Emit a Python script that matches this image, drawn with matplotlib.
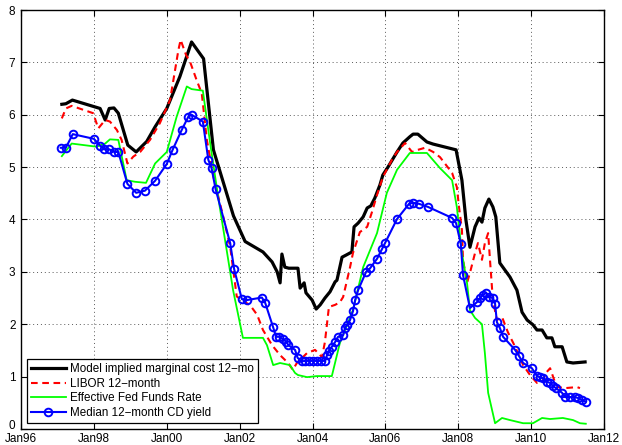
import matplotlib
matplotlib.use('Agg')
import matplotlib.pyplot as plt
import matplotlib.transforms as mtransforms
import numpy as np

plt.rcParams['font.family'] = ['Liberation Sans', 'DejaVu Sans']

# Model implied marginal cost, 12-month (decimal year, percent)
model_t = [1997.12, 1997.23, 1997.41, 1998.17, 1998.31, 1998.42, 1998.55, 1998.67,
           1998.93, 1999.16, 1999.45, 1999.68, 2000.00, 2000.36, 2000.68, 2001.01,
           2001.28, 2001.83, 2002.15, 2002.64, 2002.89, 2003.03, 2003.11, 2003.16,
           2003.24, 2003.35, 2003.60, 2003.66, 2003.77, 2003.82, 2003.99, 2004.10,
           2004.21, 2004.34, 2004.48, 2004.62, 2004.67, 2004.81, 2004.92, 2005.08,
           2005.14, 2005.25, 2005.39, 2005.50, 2005.60, 2005.71, 2005.85, 2005.93,
           2006.07, 2006.32, 2006.48, 2006.67, 2006.76, 2006.89, 2007.14, 2007.31,
           2007.94, 2008.10, 2008.21, 2008.32, 2008.46, 2008.57, 2008.65, 2008.73,
           2008.84, 2008.95, 2009.03, 2009.14, 2009.42, 2009.61, 2009.75, 2009.89,
           2010.05, 2010.16, 2010.30, 2010.43, 2010.57, 2010.65, 2010.85, 2010.98,
           2011.15, 2011.48]
model_v = [6.20, 6.21, 6.28, 6.12, 5.90, 6.12, 6.13, 6.03,
           5.42, 5.29, 5.49, 5.77, 6.12, 6.73, 7.39, 7.07,
           5.33, 4.07, 3.58, 3.38, 3.19, 3.00, 2.79, 3.34,
           3.09, 3.07, 3.07, 2.69, 2.79, 2.60, 2.46, 2.29,
           2.37, 2.50, 2.62, 2.81, 2.84, 3.28, 3.32, 3.38,
           3.86, 3.93, 4.05, 4.22, 4.26, 4.41, 4.66, 4.85,
           5.00, 5.29, 5.46, 5.58, 5.63, 5.63, 5.48, 5.44,
           5.33, 4.75, 3.99, 3.47, 3.86, 4.03, 3.95, 4.22,
           4.39, 4.24, 4.05, 3.17, 2.90, 2.65, 2.23, 2.08,
           1.99, 1.89, 1.89, 1.74, 1.74, 1.57, 1.57, 1.28,
           1.26, 1.28]

# LIBOR 12-month
libor_t = [1997.12, 1997.23, 1997.39, 1997.98, 1998.12, 1998.31, 1998.44, 1998.63,
           1998.76, 1998.92, 1999.08, 1999.27, 1999.54, 1999.81, 2000.09, 2000.32,
           2000.38, 2000.53, 2000.64, 2000.82, 2000.96, 2001.10, 2001.28, 2001.55,
           2001.74, 2001.92, 2002.15, 2002.28, 2002.48, 2002.64, 2002.89, 2003.11,
           2003.33, 2003.46, 2003.57, 2003.85, 2004.07, 2004.26, 2004.34, 2004.45,
           2004.62, 2004.75, 2004.84, 2005.03, 2005.11, 2005.30, 2005.50, 2005.63,
           2005.77, 2005.93, 2006.18, 2006.32, 2006.54, 2006.73, 2006.89, 2007.09,
           2007.31, 2007.50, 2007.83, 2007.96, 2008.02, 2008.10, 2008.13, 2008.24,
           2008.32, 2008.46, 2008.54, 2008.65, 2008.73, 2008.82, 2008.87, 2008.95,
           2009.06, 2009.20, 2009.36, 2009.56, 2009.78, 2009.97, 2010.16, 2010.30,
           2010.43, 2010.52, 2010.65, 2010.74, 2010.93, 2011.26, 2011.34]
libor_v = [5.93, 6.12, 6.17, 6.03, 5.74, 5.90, 5.87, 5.71,
           5.52, 5.07, 5.20, 5.29, 5.52, 5.84, 6.28, 7.24,
           7.43, 7.14, 7.01, 6.66, 6.41, 5.52, 4.82, 4.05,
           3.48, 2.53, 2.42, 2.37, 2.18, 1.89, 1.60, 1.41,
           1.26, 1.13, 1.26, 1.45, 1.51, 1.37, 1.66, 2.33,
           2.37, 2.42, 2.52, 3.09, 3.36, 3.76, 3.86, 4.14,
           4.47, 4.81, 5.14, 5.29, 5.46, 5.29, 5.33, 5.37,
           5.29, 5.19, 4.89, 4.62, 4.24, 3.80, 3.23, 2.79,
           2.98, 3.36, 3.55, 3.23, 3.55, 3.74, 3.23, 2.46,
           2.08, 2.14, 1.85, 1.57, 1.22, 1.03, 0.88, 0.90,
           1.09, 1.16, 0.90, 0.80, 0.78, 0.80, 0.78]

# Effective Fed Funds Rate
ffr_t = [1997.12, 1997.39, 1998.07, 1998.31, 1998.44, 1998.67, 1998.90, 1999.13,
         1999.43, 1999.68, 2000.00, 2000.27, 2000.55, 2000.68, 2000.99, 2001.19,
         2001.41, 2001.82, 2002.09, 2002.64, 2002.75, 2002.92, 2003.11, 2003.38,
         2003.52, 2003.60, 2003.85, 2004.12, 2004.53, 2004.75, 2005.11, 2005.39,
         2005.77, 2006.04, 2006.32, 2006.67, 2007.14, 2007.50, 2007.83, 2007.96,
         2008.10, 2008.24, 2008.32, 2008.46, 2008.65, 2008.73, 2008.82, 2009.01,
         2009.20, 2009.42, 2009.78, 2010.05, 2010.30, 2010.52, 2010.87, 2011.15,
         2011.34, 2011.50]
ffr_v = [5.21, 5.45, 5.39, 5.45, 5.53, 5.52, 4.75, 4.72,
         4.70, 5.07, 5.29, 5.96, 6.54, 6.49, 6.46, 5.46,
         4.43, 2.65, 1.74, 1.74, 1.60, 1.22, 1.26, 1.22,
         1.07, 1.03, 0.99, 1.01, 1.01, 1.64, 2.27, 3.09,
         3.74, 4.51, 4.95, 5.27, 5.27, 4.98, 4.75, 4.24,
         3.36, 2.79, 2.27, 2.12, 2.00, 1.45, 0.69, 0.11,
         0.21, 0.17, 0.11, 0.11, 0.21, 0.19, 0.21, 0.17,
         0.11, 0.10]

# Median 12-month CD yield
cd_t = [1997.09, 1997.23, 1997.42, 1998.00, 1998.17, 1998.29, 1998.42, 1998.56,
        1998.67, 1998.92, 1999.16, 1999.40, 1999.68, 2000.00, 2000.16, 2000.41,
        2000.59, 2000.68, 2000.99, 2001.14, 2001.23, 2001.34, 2001.74, 2001.85,
        2002.06, 2002.19, 2002.61, 2002.70, 2002.92, 2003.00, 2003.08, 2003.18,
        2003.27, 2003.34, 2003.52, 2003.59, 2003.70, 2003.79, 2003.90, 2004.01,
        2004.12, 2004.23, 2004.34, 2004.40, 2004.45, 2004.53, 2004.62, 2004.70,
        2004.84, 2004.89, 2004.95, 2005.03, 2005.11, 2005.17, 2005.25, 2005.47,
        2005.58, 2005.77, 2005.91, 2005.99, 2006.32, 2006.65, 2006.76, 2006.92,
        2007.17, 2007.83, 2007.94, 2008.07, 2008.13, 2008.32, 2008.51, 2008.60,
        2008.68, 2008.76, 2008.84, 2008.95, 2009.01, 2009.06, 2009.14, 2009.23,
        2009.56, 2009.67, 2009.78, 2010.02, 2010.16, 2010.24, 2010.32, 2010.43,
        2010.52, 2010.60, 2010.68, 2010.85, 2010.93, 2011.07, 2011.20, 2011.29,
        2011.40, 2011.50]
cd_v = [5.37, 5.37, 5.63, 5.54, 5.41, 5.34, 5.34, 5.29,
        5.29, 4.68, 4.51, 4.55, 4.74, 5.06, 5.33, 5.71,
        5.96, 6.00, 5.87, 5.14, 4.98, 4.58, 3.55, 3.05,
        2.48, 2.46, 2.51, 2.41, 1.94, 1.76, 1.76, 1.72,
        1.67, 1.60, 1.51, 1.36, 1.29, 1.30, 1.30, 1.30,
        1.30, 1.30, 1.30, 1.41, 1.49, 1.57, 1.66, 1.76,
        1.79, 1.93, 1.99, 2.08, 2.25, 2.46, 2.65, 3.00,
        3.07, 3.25, 3.44, 3.55, 4.01, 4.30, 4.32, 4.30,
        4.24, 4.03, 3.93, 3.53, 2.94, 2.31, 2.42, 2.50,
        2.56, 2.60, 2.52, 2.50, 2.39, 2.04, 1.93, 1.76,
        1.51, 1.39, 1.26, 1.16, 1.01, 0.99, 0.97, 0.90,
        0.88, 0.82, 0.78, 0.69, 0.61, 0.61, 0.61, 0.59,
        0.55, 0.52]

tick_years = [1996, 1998, 2000, 2002, 2004, 2006, 2008, 2010, 2012]
tick_labels = ['Jan96', 'Jan98', 'Jan00', 'Jan02', 'Jan04', 'Jan06', 'Jan08', 'Jan10', 'Jan12']


def main():
    fig = plt.figure(figsize=(6.22, 4.45), dpi=100)
    ax = fig.add_axes([0.0338, 0.036, 0.9373, 0.9415])

    ax.plot(model_t, model_v, color='black', lw=2.3,
            label='Model implied marginal cost 12\u2212mo')
    ax.plot(libor_t, libor_v, color='red', lw=1.5, ls=(0, (3.2, 2.2)),
            label='LIBOR 12\u2212month')
    ax.plot(ffr_t, ffr_v, color='#00ff00', lw=1.3,
            label='Effective Fed Funds Rate')
    ax.plot(cd_t, cd_v, color='blue', lw=1.5, marker='o', ms=5.5,
            mfc='none', mec='blue', mew=1.4,
            label='Median 12\u2212month CD yield')

    ax.set_xlim(1996, 2012)
    ax.set_ylim(0, 8)
    ax.set_xticks(tick_years)
    ax.set_xticklabels(tick_labels)
    ax.set_yticks(range(0, 9))
    ax.tick_params(direction='in', length=4, width=0.8, top=True, right=True,
                   labelsize=8.5)
    ax.tick_params(axis='x', pad=3.2)
    ax.tick_params(axis='y', pad=4)
    for s in ax.spines.values():
        s.set_linewidth(1.0)
    ax.grid(True, ls=(0, (1, 3)), color='0.35', lw=0.7)

    # nudge the "0" label up a little so it clears the corner date label
    fig.canvas.draw()
    zero_lbl = ax.get_yticklabels()[0]
    zero_lbl.set_transform(zero_lbl.get_transform() +
                           mtransforms.ScaledTranslation(0, 3.5 / 72, fig.dpi_scale_trans))

    leg = ax.legend(loc='lower left', bbox_to_anchor=(0.0098, 0.0143),
                    borderaxespad=0, fancybox=False, framealpha=1,
                    edgecolor='black', fontsize=8.4, handlelength=3.0,
                    labelspacing=0.22, borderpad=0.35, handletextpad=0.4)
    leg.get_frame().set_linewidth(0.9)

    fig.savefig('out.png', dpi=100)
    plt.close(fig)


if __name__ == '__main__':
    main()
